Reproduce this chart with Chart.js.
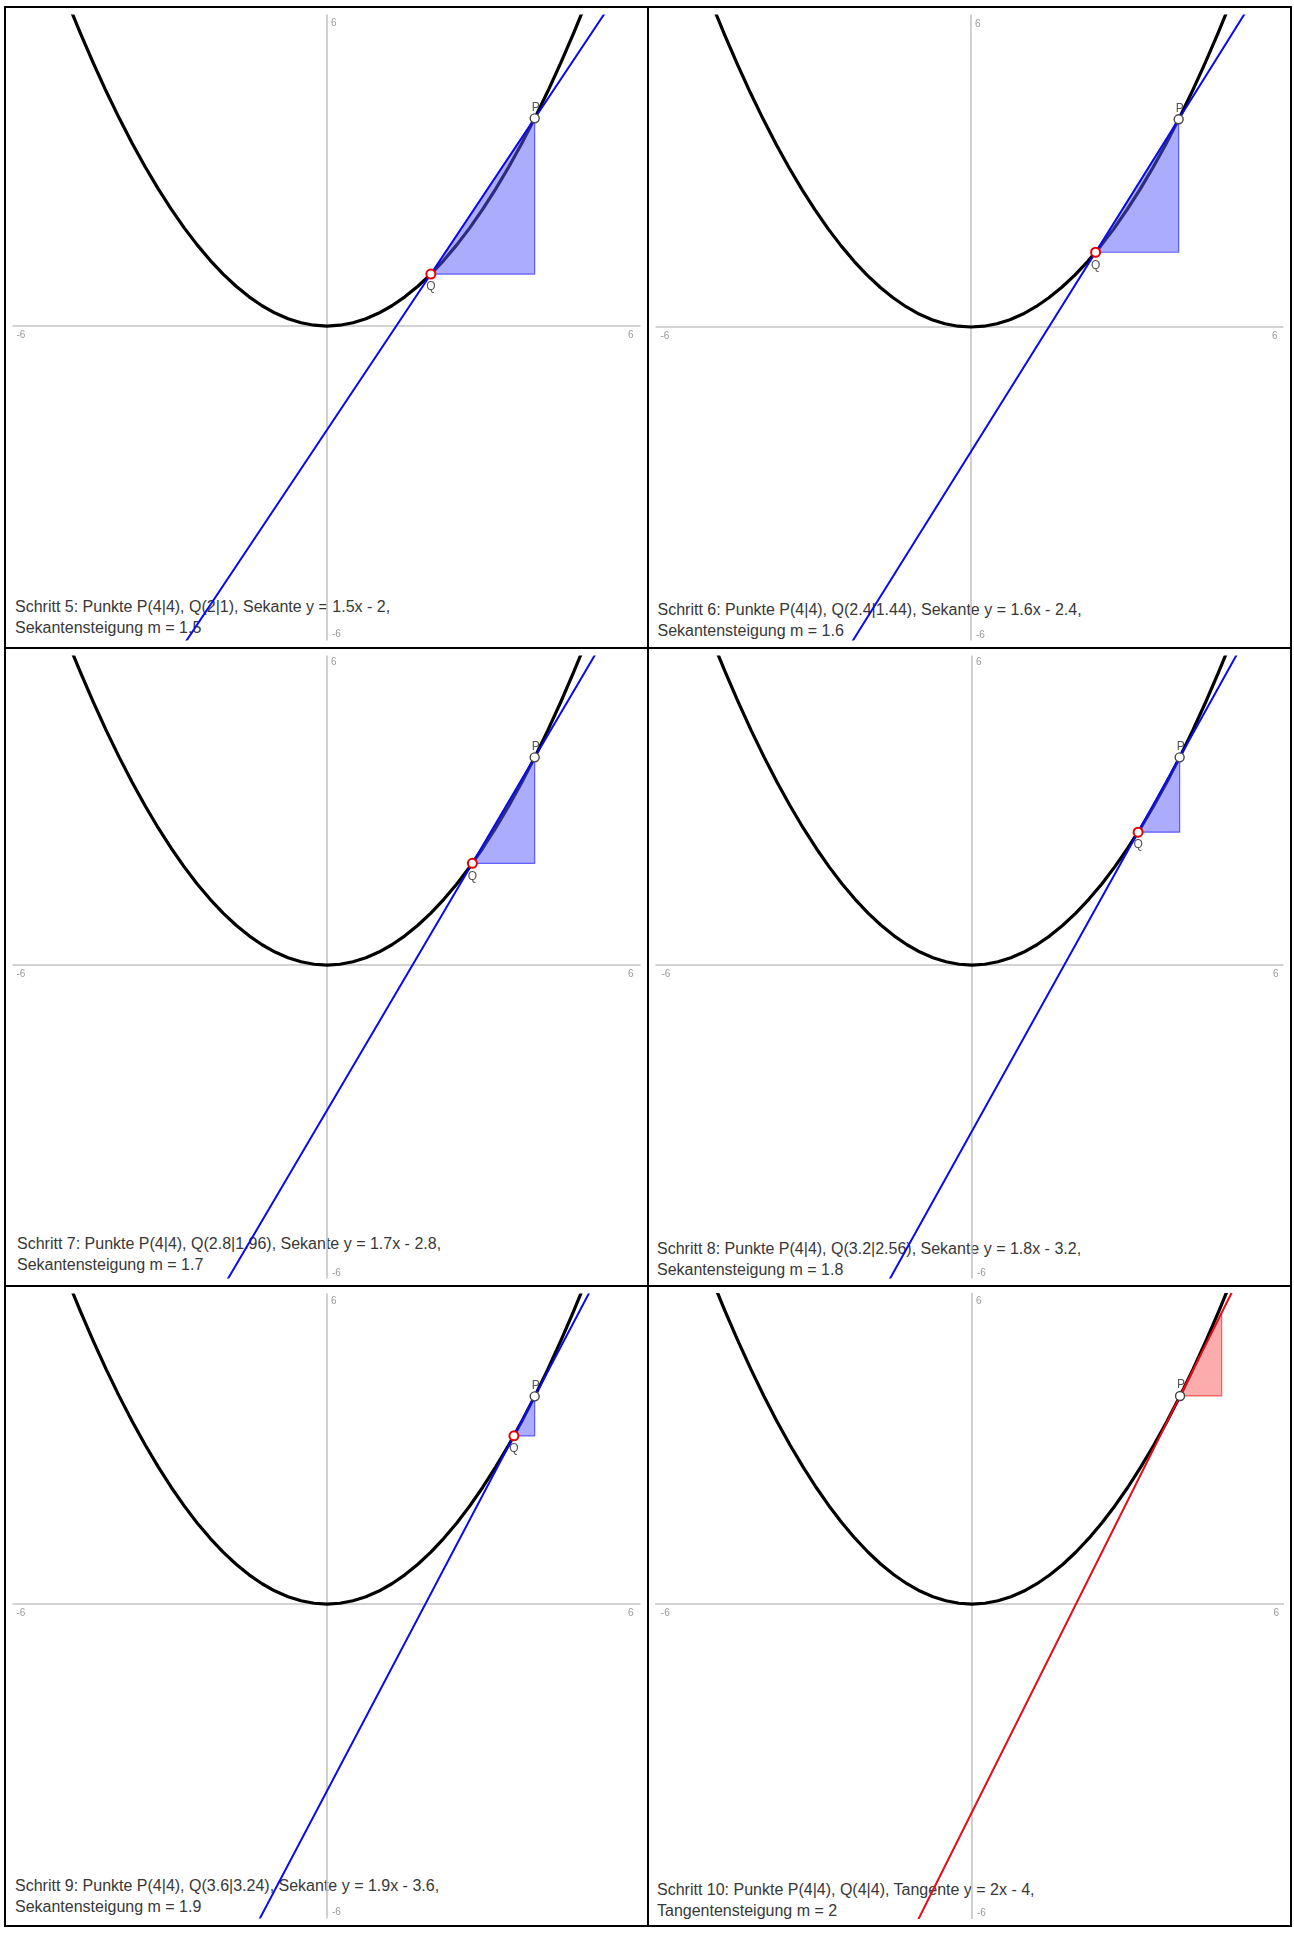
<!DOCTYPE html>
<html>
<head>
<meta charset="utf-8">
<script src="https://cdn.jsdelivr.net/npm/chart.js@4.4.1/dist/chart.umd.min.js"></script>
<style>
  html, body { margin: 0; padding: 0; background: #fff; }
  #root { position: relative; width: 1294px; height: 1933px; background: #fff; overflow: hidden; }
  .rule { position: absolute; background: #000; }
  .cell { position: absolute; background: #fff; overflow: hidden; }
  .cell canvas { position: absolute; left: 0; top: 0; }
  .cap { position: absolute; font-family: "Liberation Sans", Arial, sans-serif; font-size: 16px;
         line-height: 21px; color: #383838; white-space: nowrap; }
</style>
</head>
<body>
<div id="root"></div>
<script>
// ---------------- data ----------------
const tickLabels = ['-6', '6'];
const pointPLabel = 'P';
const pointQLabel = 'Q';

const pX = 4;
const pY = 4;
const qX = [2, 2.4, 2.8, 3.2, 3.6, 4];
const qY = [1, 1.44, 1.96, 2.56, 3.24, 4];
const slopes = [1.5, 1.6, 1.7, 1.8, 1.9, 2];
const intercepts = [-2, -2.4, -2.8, -3.2, -3.6, -4];

const triangleX = [[2, 4, 4], [2.4, 4, 4], [2.8, 4, 4], [3.2, 4, 4], [3.6, 4, 4], [4, 4.8, 4.8]];
const triangleY = [[1, 1, 4], [1.44, 1.44, 4], [1.96, 1.96, 4], [2.56, 2.56, 4], [3.24, 3.24, 4], [4, 4, 5.6]];

// parabola y = x^2/4 sample points
const parabolaX = [-5, -4.75, -4.5, -4.25, -4, -3.75, -3.5, -3.25, -3, -2.75, -2.5, -2.25, -2, -1.75, -1.5, -1.25, -1, -0.75, -0.5, -0.25,
  0, 0.25, 0.5, 0.75, 1, 1.25, 1.5, 1.75, 2, 2.25, 2.5, 2.75, 3, 3.25, 3.5, 3.75, 4, 4.25, 4.5, 4.75, 5];
const parabolaY = [6.25, 5.640625, 5.0625, 4.515625, 4, 3.515625, 3.0625, 2.640625, 2.25, 1.890625, 1.5625, 1.265625, 1, 0.765625, 0.5625, 0.390625, 0.25, 0.140625, 0.0625, 0.015625,
  0, 0.015625, 0.0625, 0.140625, 0.25, 0.390625, 0.5625, 0.765625, 1, 1.265625, 1.5625, 1.890625, 2.25, 2.640625, 3.0625, 3.515625, 4, 4.515625, 5.0625, 5.640625, 6.25];

const lineXEnds = [-7, 7];
const axisEnds = [-7, 7];

const captionLine1 = [
  'Schritt 5: Punkte P(4|4), Q(2|1), Sekante y = 1.5x - 2,',
  'Schritt 6: Punkte P(4|4), Q(2.4|1.44), Sekante y = 1.6x - 2.4,',
  'Schritt 7: Punkte P(4|4), Q(2.8|1.96), Sekante y = 1.7x - 2.8,',
  'Schritt 8: Punkte P(4|4), Q(3.2|2.56), Sekante y = 1.8x - 3.2,',
  'Schritt 9: Punkte P(4|4), Q(3.6|3.24), Sekante y = 1.9x - 3.6,',
  'Schritt 10: Punkte P(4|4), Q(4|4), Tangente y = 2x - 4,'
];
const captionLine2 = [
  'Sekantensteigung m = 1.5',
  'Sekantensteigung m = 1.6',
  'Sekantensteigung m = 1.7',
  'Sekantensteigung m = 1.8',
  'Sekantensteigung m = 1.9',
  'Tangentensteigung m = 2'
];

// ---------------- styles / layout ----------------
const lineColors = ['rgb(10,10,240)', 'rgb(10,10,240)', 'rgb(10,10,240)', 'rgb(10,10,240)', 'rgb(10,10,240)', 'rgb(235,10,20)'];
const triFill = ['rgba(90,90,250,0.5)', 'rgba(90,90,250,0.5)', 'rgba(90,90,250,0.5)', 'rgba(90,90,250,0.5)', 'rgba(90,90,250,0.5)', 'rgba(250,90,90,0.5)'];
const triBorder = ['rgba(40,40,255,0.7)', 'rgba(40,40,255,0.7)', 'rgba(40,40,255,0.7)', 'rgba(40,40,255,0.7)', 'rgba(40,40,255,0.7)', 'rgba(255,40,40,0.7)'];

const PPU = 53; // pixels per unit
const colX = [[6, 647], [649, 1290]];
const rowY = [[8, 647], [649, 1285], [1287, 1925]];
// origins (page px)
const origins = [[327, 326], [971, 327], [327, 965], [972, 965], [327, 1604], [972, 1604]];
const capLeft = [9, 8.5, 11, 8, 9, 8];
const capBottom = [9, 6.5, 10, 5, 8.5, 4.5];

const root = document.getElementById('root');
function rule(l, t, w, h) {
  const d = document.createElement('div');
  d.className = 'rule';
  d.style.left = l + 'px'; d.style.top = t + 'px'; d.style.width = w + 'px'; d.style.height = h + 'px';
  root.appendChild(d);
}
rule(4, 6, 1288, 2);
rule(4, 647, 1288, 2);
rule(4, 1285, 1288, 2);
rule(4, 1925, 1288, 2);
rule(4, 6, 2, 1921);
rule(647, 6, 2, 1921);
rule(1290, 6, 2, 1921);

const annotPlugin = {
  id: 'annot',
  afterDatasetsDraw(chart) {
    const {ctx} = chart;
    const x = chart.scales.x, y = chart.scales.y;
    const idx = chart.options.plugins.annot.index;
    const ox = x.getPixelForValue(0), oy = y.getPixelForValue(0);
    ctx.save();
    ctx.font = '10px "Liberation Sans", Arial, sans-serif';
    ctx.fillStyle = '#9a9a9a';
    ctx.textBaseline = 'middle';
    ctx.textAlign = 'left';
    ctx.fillText(tickLabels[1], ox + 4, y.getPixelForValue(6) + 9);
    ctx.fillText(tickLabels[0], ox + 5, y.getPixelForValue(-6) - 3);
    ctx.fillText(tickLabels[0], x.getPixelForValue(-6) + 1, oy + 9);
    ctx.textAlign = 'right';
    ctx.fillText(tickLabels[1], x.getPixelForValue(6) - 5, oy + 9);
    // point labels
    ctx.font = '12px "Liberation Sans", Arial, sans-serif';
    ctx.fillStyle = '#555';
    ctx.textAlign = 'center';
    ctx.fillText(pointPLabel, x.getPixelForValue(pX) + 1, y.getPixelForValue(pY) - 11);
    if (!(qX[idx] === pX && qY[idx] === pY)) {
      ctx.fillText(pointQLabel, x.getPixelForValue(qX[idx]), y.getPixelForValue(qY[idx]) + 13);
    }
    ctx.restore();
  }
};

for (let i = 0; i < 6; i++) {
  const c = i % 2, r = Math.floor(i / 2);
  const cl = colX[c][0], cw = colX[c][1] - colX[c][0];
  const ct = rowY[r][0], ch = rowY[r][1] - rowY[r][0];
  const cell = document.createElement('div');
  cell.className = 'cell';
  cell.style.left = cl + 'px'; cell.style.top = ct + 'px';
  cell.style.width = cw + 'px'; cell.style.height = ch + 'px';
  root.appendChild(cell);

  const cap = document.createElement('div');
  cap.className = 'cap';
  cap.style.left = capLeft[i] + 'px';
  cap.style.bottom = capBottom[i] + 'px';
  const l1 = document.createElement('div'); l1.textContent = captionLine1[i];
  const l2 = document.createElement('div'); l2.textContent = captionLine2[i];
  cap.appendChild(l1); cap.appendChild(l2);
  cell.appendChild(cap);

  const cv = document.createElement('canvas');
  cv.width = cw; cv.height = ch;
  cv.style.width = cw + 'px'; cv.style.height = ch + 'px';
  cell.appendChild(cv);

  const rx = origins[i][0] - cl, ry = origins[i][1] - ct;
  const xmin = -rx / PPU, xmax = (cw - rx) / PPU;
  const ymax = ry / PPU, ymin = -(ch - ry) / PPU;

  const parabola = parabolaX.map((v, k) => ({x: v, y: parabolaY[k]}));
  const secant = lineXEnds.map(v => ({x: v, y: slopes[i] * v + intercepts[i]}));
  const tri = triangleX[i].map((v, k) => ({x: v, y: triangleY[i][k]}));
  tri.push({x: triangleX[i][0], y: triangleY[i][0]});
  const hasQ = !(qX[i] === pX && qY[i] === pY);

  const datasets = [
    {data: [{x: axisEnds[0], y: 0}, {x: axisEnds[1], y: 0}], borderColor: '#c4c4c4', borderWidth: 1.6, pointRadius: 0, order: 10},
    {data: [{x: 0, y: axisEnds[0]}, {x: 0, y: axisEnds[1]}], borderColor: '#c4c4c4', borderWidth: 1.6, pointRadius: 0, order: 9},
    {data: parabola, borderColor: '#000', borderWidth: 3.2, pointRadius: 0, order: 8},
    {data: tri, borderColor: triBorder[i], backgroundColor: triFill[i], borderWidth: 1.2, pointRadius: 0, fill: 'shape', order: 7},
    {data: secant, borderColor: lineColors[i], borderWidth: 2, pointRadius: 0, order: 6},
    {data: hasQ ? [{x: qX[i], y: qY[i]}] : [], showLine: false, pointRadius: 4.5, pointBorderWidth: 2,
      pointBackgroundColor: '#fff', pointBorderColor: 'rgb(230,0,0)', order: 5},
    {data: [{x: pX, y: pY}], showLine: false, pointRadius: 4.5, pointBorderWidth: 1.4,
      pointBackgroundColor: '#fff', pointBorderColor: '#444', order: 4}
  ];

  new Chart(cv, {
    type: 'line',
    data: {datasets},
    options: {
      responsive: false,
      maintainAspectRatio: false,
      animation: false,
      events: [],
      layout: {padding: 0},
      elements: {line: {tension: 0, borderCapStyle: 'round', borderJoinStyle: 'round'}},
      plugins: {legend: {display: false}, tooltip: {enabled: false}, title: {display: false}, annot: {index: i}},
      scales: {
        x: {type: 'linear', min: xmin, max: xmax, display: false},
        y: {type: 'linear', min: ymin, max: ymax, display: false}
      }
    },
    plugins: [annotPlugin]
  });
}
</script>
</body>
</html>
